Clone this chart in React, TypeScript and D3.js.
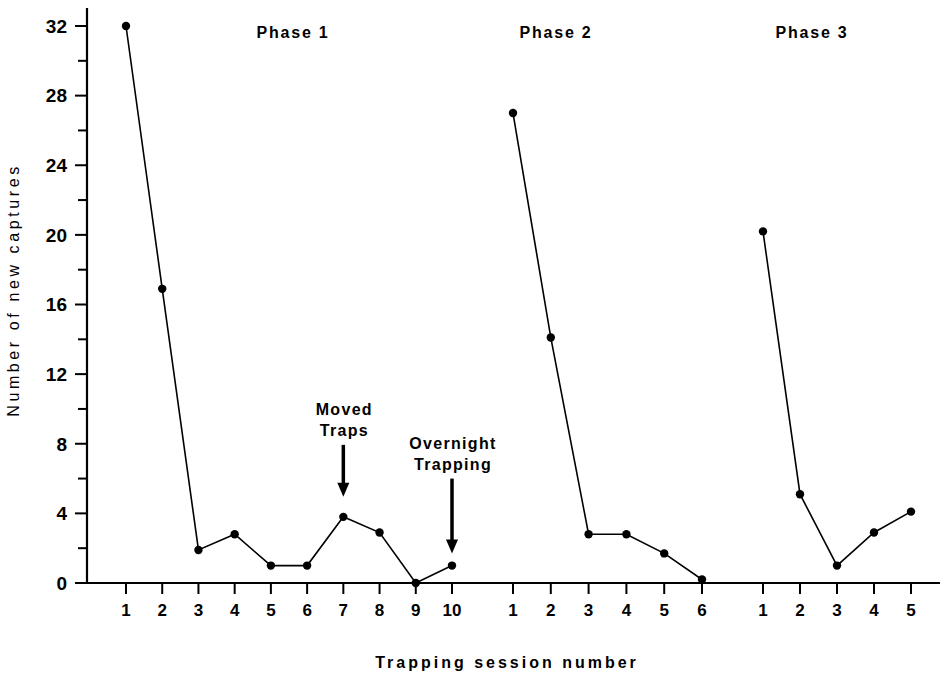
import * as d3 from "d3";
import React, { useCallback } from "react";

// values
const PHASES = ["Phase 1", "Phase 2", "Phase 3"];
const PHASE1 = [32, 16.9, 1.9, 2.8, 1, 1, 3.8, 2.9, 0, 1];
const PHASE2 = [27, 14.1, 2.8, 2.8, 1.7, 0.2];
const PHASE3 = [20.2, 5.1, 1, 2.9, 4.1];
const Y_TICKS = [0, 4, 8, 12, 16, 20, 24, 28, 32];
const Y_MINOR = [2, 6, 10, 14, 18, 22, 26, 30];
const ANNOTATIONS = [
  { phase: 0, session: 7, lines: ["Moved", "Traps"] },
  { phase: 0, session: 10, lines: ["Overnight", "Trapping"] },
];

const W = 944;
const H = 677;
const FONT = "'Liberation Sans', Arial, sans-serif";

// pixel ranges of each phase on the x axis
const PHASE_RANGES: [number, number][] = [
  [126, 452],
  [513, 702],
  [763, 911],
];
const TITLE_X = [293, 556, 812];
// gap from point to arrow tip, arrow length
const ARROW = [
  { gap: 20, len: 52 },
  { gap: 12, len: 75 },
];

function drawChart(node: SVGSVGElement | null) {
  if (!node) return;
  const svg = d3.select(node);
  svg.selectAll("*").remove();

  const series = [PHASE1, PHASE2, PHASE3];
  const y = d3.scaleLinear().domain([0, 32]).range([583, 26]);
  const xs = series.map((s, i) =>
    d3.scaleLinear().domain([1, s.length]).range(PHASE_RANGES[i])
  );

  const g = svg.append("g");

  // y axis
  g.append("line")
    .attr("x1", 87).attr("x2", 87)
    .attr("y1", 8).attr("y2", y(0))
    .attr("stroke", "#000").attr("stroke-width", 2.2);

  g.selectAll(".ymaj")
    .data(Y_TICKS)
    .join("line")
    .attr("x1", 75).attr("x2", 87)
    .attr("y1", d => y(d)).attr("y2", d => y(d))
    .attr("stroke", "#000").attr("stroke-width", 2);

  g.selectAll(".ymin")
    .data(Y_MINOR)
    .join("line")
    .attr("x1", 78).attr("x2", 87)
    .attr("y1", d => y(d)).attr("y2", d => y(d))
    .attr("stroke", "#000").attr("stroke-width", 2);

  g.selectAll(".ylab")
    .data(Y_TICKS)
    .join("text")
    .attr("x", 67)
    .attr("y", d => y(d))
    .attr("dy", "0.36em")
    .attr("text-anchor", "end")
    .attr("font-family", FONT)
    .attr("font-weight", "bold")
    .attr("font-size", 19)
    .text(d => d);

  // x axis
  g.append("line")
    .attr("x1", 76).attr("x2", 940)
    .attr("y1", y(0)).attr("y2", y(0))
    .attr("stroke", "#000").attr("stroke-width", 2.2);

  series.forEach((s, i) => {
    const x = xs[i];
    const sessions = d3.range(1, s.length + 1);
    const pg = g.append("g");

    pg.selectAll(".xt")
      .data(sessions)
      .join("line")
      .attr("x1", d => x(d)).attr("x2", d => x(d))
      .attr("y1", y(0)).attr("y2", y(0) + 11)
      .attr("stroke", "#000").attr("stroke-width", 2);

    pg.selectAll(".xl")
      .data(sessions)
      .join("text")
      .attr("x", d => x(d))
      .attr("y", 616)
      .attr("text-anchor", "middle")
      .attr("font-family", FONT)
      .attr("font-weight", "bold")
      .attr("font-size", 17)
      .text(d => d);

    const line = d3
      .line<number>()
      .x((_, k) => x(k + 1))
      .y(d => y(d));

    pg.append("path")
      .attr("d", line(s))
      .attr("fill", "none")
      .attr("stroke", "#000")
      .attr("stroke-width", 1.6);

    pg.selectAll("circle")
      .data(s)
      .join("circle")
      .attr("cx", (_, k) => x(k + 1))
      .attr("cy", d => y(d))
      .attr("r", 4.2)
      .attr("fill", "#000");

    // phase title
    pg.append("text")
      .attr("x", TITLE_X[i])
      .attr("y", 38)
      .attr("text-anchor", "middle")
      .attr("font-family", FONT)
      .attr("font-weight", "bold")
      .attr("font-size", 16)
      .attr("letter-spacing", 1.8)
      .text(PHASES[i]);
  });

  // annotations with arrows
  ANNOTATIONS.forEach((a, ai) => {
    const ax = xs[a.phase](a.session);
    const vy = y(series[a.phase][a.session - 1]);
    const tip = vy - ARROW[ai].gap;
    const tail = tip - ARROW[ai].len;
    const ag = g.append("g");
    ag.selectAll("text")
      .data(a.lines)
      .join("text")
      .attr("x", ax + 1)
      .attr("y", (_, k) => tail - 9 - (a.lines.length - 1 - k) * 21)
      .attr("text-anchor", "middle")
      .attr("font-family", FONT)
      .attr("font-weight", "bold")
      .attr("font-size", 16)
      .attr("letter-spacing", 1.3)
      .text(d => d);
    ag.append("line")
      .attr("x1", ax).attr("x2", ax)
      .attr("y1", tail).attr("y2", tip - 10)
      .attr("stroke", "#000").attr("stroke-width", 3.5);
    ag.append("path")
      .attr("d", `M${ax - 6},${tip - 14}L${ax + 6},${tip - 14}L${ax},${tip}Z`)
      .attr("fill", "#000");
  });

  // axis titles
  g.append("text")
    .attr("transform", `translate(19,290) rotate(-90)`)
    .attr("text-anchor", "middle")
    .attr("font-family", FONT)
    .attr("font-size", 16)
    .attr("letter-spacing", 3.6)
    .text("Number of new captures");

  g.append("text")
    .attr("x", 507)
    .attr("y", 668)
    .attr("text-anchor", "middle")
    .attr("font-family", FONT)
    .attr("font-weight", "bold")
    .attr("font-size", 16)
    .attr("letter-spacing", 3)
    .text("Trapping  session number");
}

export default function App() {
  const svg = useCallback((node: SVGSVGElement | null) => {
    drawChart(node);
  }, []);

  return (
    <svg
      ref={svg}
      width={W}
      height={H}
      style={{ position: "absolute", left: 0, top: 0, background: "#fff" }}
    />
  );
}
